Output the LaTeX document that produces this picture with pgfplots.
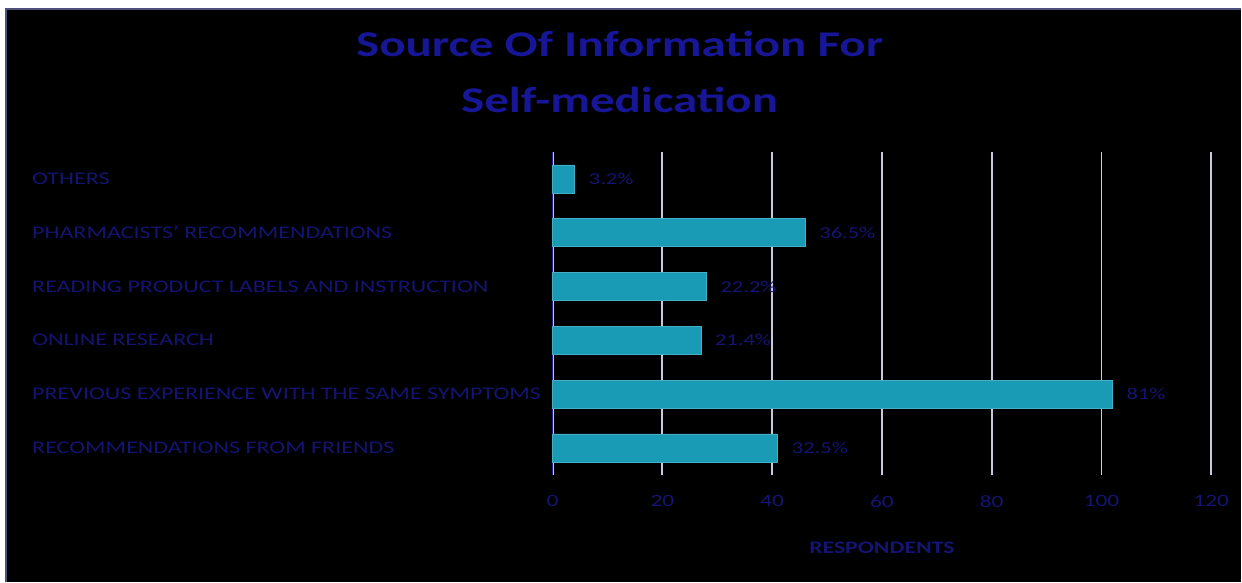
\documentclass[border=0pt]{standalone}
\usepackage{pgfplots}
\pgfplotsset{compat=1.18}
\usepackage{pgfplotstable}
\usepackage{fontspec}
\setmainfont{Carlito}[FakeStretch=1.35]
\definecolor{titleblue}{RGB}{22,22,150}
\definecolor{labelblue}{RGB}{20,20,115}
\definecolor{barteal}{RGB}{25,155,182}
\definecolor{gridc}{RGB}{200,200,225}
\definecolor{framec}{RGB}{80,80,125}
\definecolor{axisblue}{RGB}{30,30,160}

\pgfplotstableread{
pos value pct
0 41 32.5
1 102 81
2 27 21.4
3 28 22.2
4 46 36.5
5 4 3.2
}\datatable

\begin{document}
\begin{tikzpicture}
% page: 1242 x 582 px, 1 px = 0.75 pt
\fill[white] (0pt,0pt) rectangle (931.5pt,-436.5pt);
\fill[black] (4.5pt,-6.75pt) rectangle (931.5pt,-436.5pt);
\draw[framec, line width=1.2pt] (4.5pt,-436.5pt) -- (4.5pt,-6.75pt) -- (931.5pt,-6.75pt);
\node[font=\fontsize{27.2pt}{42pt}\selectfont\bfseries, text=titleblue, align=center, inner sep=0pt]
  at (465pt,-54pt) {Source Of Information For\\Self-medication};
\begin{axis}[
  at={(414.75pt,-356.25pt)}, anchor=south west,
  scale only axis, width=494.25pt, height=242.25pt,
  xmin=0, xmax=120, ymin=-0.5, ymax=5.5,
  xbar, bar width=21pt,
  xtick={0,20,40,60,80,100,120},
  ytick={0,1,2,3,4,5},
  yticklabels={RECOMMENDATIONS FROM FRIENDS, PREVIOUS EXPERIENCE WITH THE SAME SYMPTOMS, ONLINE RESEARCH, READING PRODUCT LABELS AND INSTRUCTION, PHARMACISTS' RECOMMENDATIONS, OTHERS},
  /pgf/number format/assume math mode=true,
  tick style={draw=none},
  xmajorgrids, grid style={gridc, line width=1.4pt},
  axis x line*=bottom, axis y line*=left,
  x axis line style={draw=none},
  y axis line style={axisblue, line width=1.2pt, -},
  ticklabel style={font=\fontsize{13pt}{15pt}\selectfont, text=labelblue},
  xticklabel style={yshift=-12pt},
  yticklabel style={anchor=west, inner sep=0pt, xshift=-386.5pt, font=\fontsize{13.35pt}{15pt}\selectfont},
  xlabel={RESPONDENTS},
  xlabel style={font=\fontsize{13.2pt}{15pt}\selectfont\bfseries, text=labelblue, at={(axis description cs:0.5,0)}, anchor=center, yshift=-54.75pt},
  nodes near coords={\pgfmathprintnumber[fixed,precision=1]{\pgfplotspointmeta}\%},
  nodes near coords style={anchor=west, inner sep=0pt, xshift=10.5pt, font=\fontsize{12.5pt}{15pt}\selectfont, text=labelblue},
  point meta=explicit,
  clip=false,
]
\addplot[fill=barteal, draw=barteal!80!white, line width=0.4pt] table[x=value, y=pos, meta=pct] {\datatable};
\end{axis}
\end{tikzpicture}
\end{document}
